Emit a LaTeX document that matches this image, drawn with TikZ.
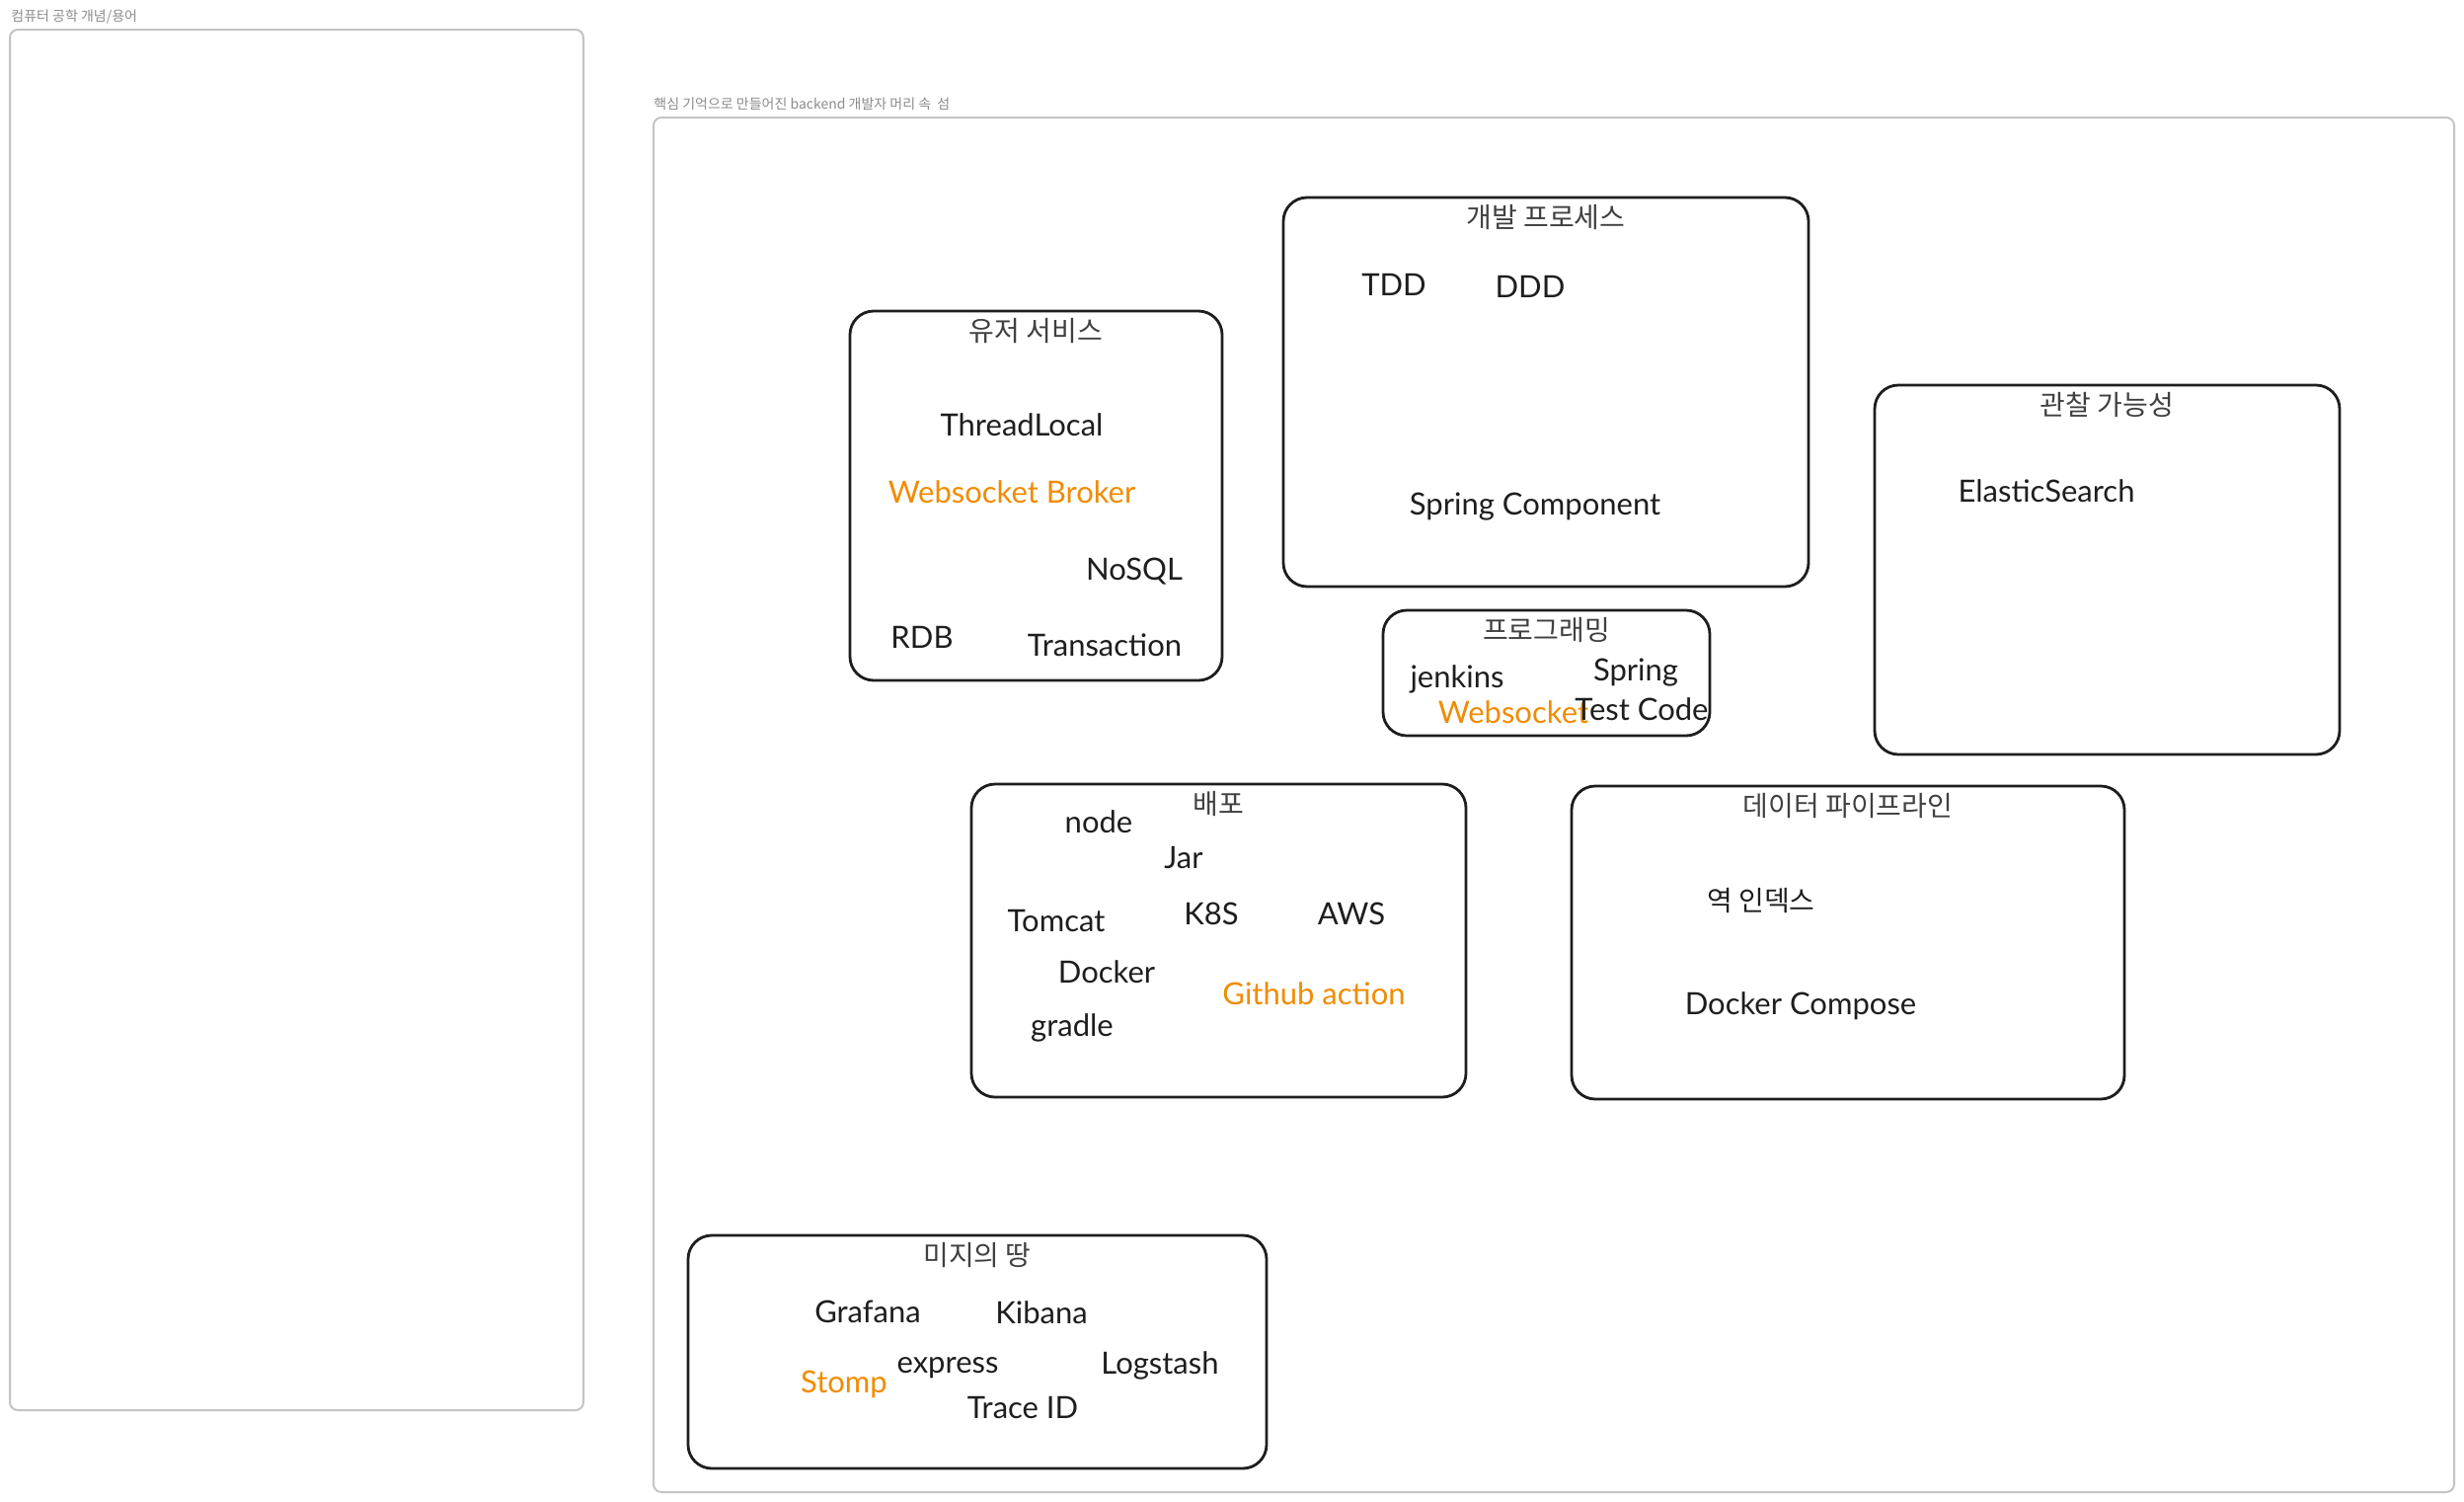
\documentclass[tikz,border=0pt]{standalone}
\usepackage{fontspec}
\setmainfont{Lato}
\newfontfamily\krfont{Noto Sans CJK KR}
\usetikzlibrary{positioning}

\definecolor{ink}{HTML}{1E1E1E}
\definecolor{accent}{HTML}{F08C00}
\definecolor{framegray}{HTML}{C4C4C4}
\definecolor{labelgray}{HTML}{8C8C8C}

\tikzset{
  frame/.style={draw=framegray, line width=1pt, rounded corners=4pt,
    inner sep=0pt, outer sep=0pt},
  framelabel/.style={text=labelgray, font=\krfont\fontsize{7}{8.5}\selectfont,
    inner sep=0pt, anchor=west},
  group/.style={draw=ink, line width=1.4pt, rounded corners=12pt,
    inner sep=0pt, outer sep=0pt},
  title/.style={text=ink!85, font=\krfont\fontsize{14}{17}\selectfont,
    inner sep=0pt},
  term/.style={text=ink, font=\fontsize{15.5}{18.5}\selectfont, inner sep=0pt},
  hot/.style={term, text=accent},
}

\begin{document}
\begin{tikzpicture}[x=0.5pt, y=-0.5pt]

  \useasboundingbox [fill=white] (0,0) rectangle (2496,1521);

  % outer frames
  \node (cs) [frame, minimum width=290.5pt, minimum height=699pt] at (300.5,729) {};
  \node (cslabel) [framelabel] at (11,17) {컴퓨터 공학 개념/용어};

  \node (island) [frame, minimum width=912pt, minimum height=696pt] at (1574,815) {};
  \node (islandlabel) [framelabel] at (662,105) {핵심 기억으로 만들어진 backend 개발자 머리 속\ \ 섬};

  % 개발 프로세스
  \node (dev) [group, minimum width=266pt, minimum height=197pt] at (1566,397) {};
  \node (devtitle) [title, below=3.5pt of dev.north] {개발 프로세스};
  \node (tdd) [term] at (1412,288) {TDD};
  \node (ddd) [term] at (1550,290) {DDD};
  \node (springcomp) [term] at (1555,513) {Spring Component};

  % 유저 서비스
  \node (user) [group, minimum width=188.5pt, minimum height=187pt] at (1049.5,502) {};
  \node (usertitle) [title, below=3.5pt of user.north] {유저 서비스};
  \node (threadlocal) [term] at (1035,430) {ThreadLocal};
  \node (broker) [hot] at (1025,498) {Websocket Broker};
  \node (nosql) [term] at (1149,579) {NoSQL};
  \node (rdb) [term] at (934,645) {RDB};
  \node (transaction) [term] at (1119,653) {Transaction};

  % 관찰 가능성
  \node (obs) [group, minimum width=235.5pt, minimum height=187pt] at (2134.5,577) {};
  \node (obstitle) [title, below=3.5pt of obs.north] {관찰 가능성};
  \node (elastic) [term] at (2073,497) {ElasticSearch};

  % 프로그래밍
  \node (prog) [group, minimum width=165.5pt, minimum height=63.5pt] at (1566.5,681.5) {};
  \node (progtitle) [title, below=3.5pt of prog.north] {프로그래밍};
  \node (jenkins) [term] at (1476,688) {jenkins};
  \node (spring) [term] at (1657,681) {Spring};
  \node (websocket) [hot] at (1533,721) {Websocket};
  \node (testcode) [term] at (1663,718) {Test Code};

  % 배포
  \node (deploy) [group, minimum width=250.5pt, minimum height=158.5pt] at (1234.5,952.5) {};
  \node (deploytitle) [title, below=3.5pt of deploy.north] {배포};
  \node (node) [term] at (1113,832) {node};
  \node (jar) [term] at (1199,869) {Jar};
  \node (tomcat) [term] at (1070,933) {Tomcat};
  \node (k8s) [term] at (1227,925) {K8S};
  \node (aws) [term] at (1369,925) {AWS};
  \node (docker) [term] at (1121,984) {Docker};
  \node (ghaction) [hot] at (1331,1006) {Github action};
  \node (gradle) [term] at (1086,1041) {gradle};

  % 데이터 파이프라인
  \node (data) [group, minimum width=280pt, minimum height=158.5pt] at (1872,954.5) {};
  \node (datatitle) [title, below=3.5pt of data.north] {데이터 파이프라인};
  \node (invindex) [term, font=\krfont\fontsize{14}{17}\selectfont] at (1784,912) {역 인덱스};
  \node (compose) [term] at (1824,1019) {Docker Compose};

  % 미지의 땅
  \node (unknown) [group, minimum width=293pt, minimum height=118pt] at (990,1369) {};
  \node (unknowntitle) [title, below=3.5pt of unknown.north] {미지의 땅};
  \node (grafana) [term] at (879,1328) {Grafana};
  \node (kibana) [term] at (1055,1329) {Kibana};
  \node (express) [term] at (960,1385) {express};
  \node (logstash) [term] at (1175,1383) {Logstash};
  \node (stomp) [hot] at (855,1402) {Stomp};
  \node (traceid) [term] at (1036,1426) {Trace ID};

\end{tikzpicture}
\end{document}
